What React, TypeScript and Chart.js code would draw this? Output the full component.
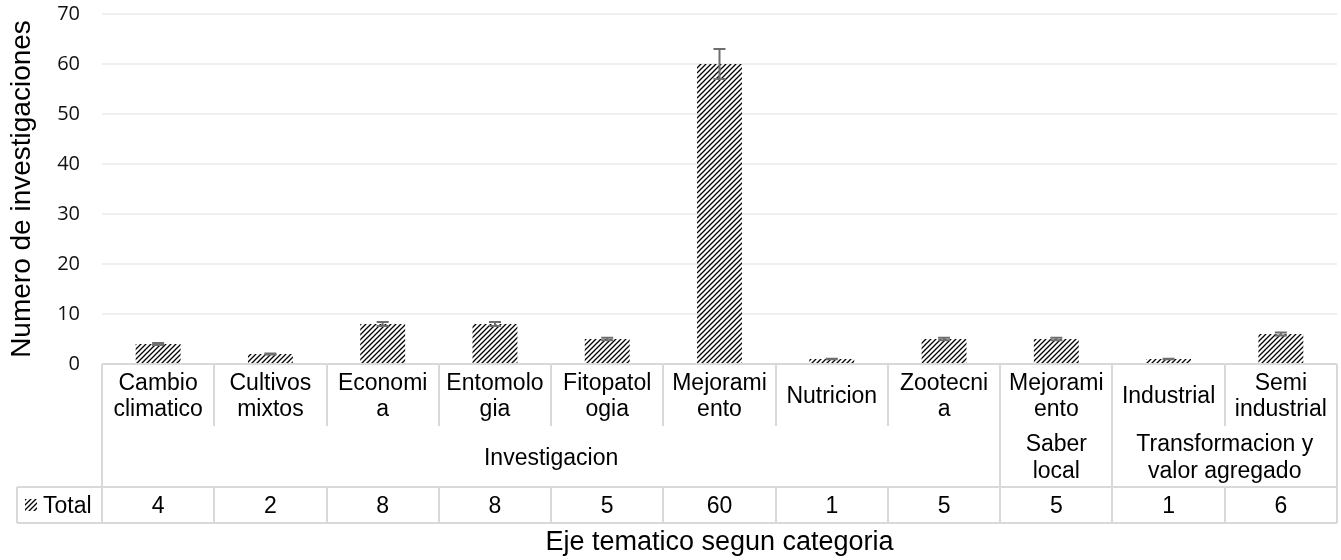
import React, { useEffect, useRef } from "react";
import { Chart, registerables } from "chart.js";

Chart.register(...registerables);

// ---------- data ----------
const categoryLabels: string[][] = [
  ["Cambio", "climatico"],
  ["Cultivos", "mixtos"],
  ["Economi", "a"],
  ["Entomolo", "gia"],
  ["Fitopatol", "ogia"],
  ["Mejorami", "ento"],
  ["Nutricion"],
  ["Zootecni", "a"],
  ["Mejorami", "ento"],
  ["Industrial"],
  ["Semi", "industrial"],
];
const groupLabels: string[][] = [
  ["Investigacion"],
  ["Saber", "local"],
  ["Transformacion y", "valor agregado"],
];
const groupSpans: number[] = [8, 1, 2];
const totals: number[] = [4, 2, 8, 8, 5, 60, 1, 5, 5, 1, 6];
const errorAmounts: number[] = [0.2, 0.1, 0.4, 0.4, 0.25, 3, 0.05, 0.25, 0.25, 0.05, 0.3];
const seriesName = "Total";
const yMin = 0;
const yMax = 70;
const yStep = 10;
const xTitle = "Eje tematico segun categoria";
const yTitle = "Numero de investigaciones";

// ---------- styling ----------
const TABLE_FONT = '23px "Liberation Sans", Arial, sans-serif';
const LINE_COLOR = "#d9d9d9";
const TEXT_COLOR = "#000000";
const ROW1_H = 62;
const ROW2_H = 61;
const ROW3_H = 36;
const LEGEND_LEFT = 17;
const LINE_SPACING = 26.6;
const BASELINE_SHIFT = 8;

function makePattern(): CanvasPattern | string {
  const c = document.createElement("canvas");
  c.width = 5;
  c.height = 5;
  const g = c.getContext("2d");
  if (!g) return "#444";
  g.strokeStyle = "#000";
  g.lineWidth = 1.3;
  g.beginPath();
  g.moveTo(0, 5);
  g.lineTo(5, 0);
  g.moveTo(-1, 1);
  g.lineTo(1, -1);
  g.moveTo(4, 6);
  g.lineTo(6, 4);
  g.stroke();
  const p = g.createPattern(c, "repeat");
  return p || "#444";
}

function drawLines(ctx: CanvasRenderingContext2D, lines: string[], cx: number, cy: number) {
  const n = lines.length;
  lines.forEach((t, k) => {
    const y = cy + BASELINE_SHIFT + (k - (n - 1) / 2) * LINE_SPACING;
    ctx.fillText(t, cx, y);
  });
}

export default function App() {
  const canvasRef = useRef<HTMLCanvasElement | null>(null);

  useEffect(() => {
    document.body.style.margin = "0";
    const canvas = canvasRef.current;
    if (!canvas) return;
    const pattern = makePattern();

    const errorBarPlugin = {
      id: "errorBars",
      afterDatasetsDraw(chart: any) {
        const ctx = chart.ctx as CanvasRenderingContext2D;
        const meta = chart.getDatasetMeta(0);
        const ys = chart.scales.y;
        ctx.save();
        ctx.strokeStyle = "#6e6e6e";
        ctx.lineWidth = 2;
        meta.data.forEach((bar: any, i: number) => {
          const v = totals[i];
          const e = errorAmounts[i];
          const x = bar.x;
          const yt = ys.getPixelForValue(v + e);
          const yb = ys.getPixelForValue(v - e);
          ctx.beginPath();
          ctx.moveTo(x, yt);
          ctx.lineTo(x, yb);
          ctx.moveTo(x - 6, yt);
          ctx.lineTo(x + 6, yt);
          ctx.moveTo(x - 6, yb);
          ctx.lineTo(x + 6, yb);
          ctx.stroke();
        });
        ctx.restore();
      },
    };

    const tablePlugin = {
      id: "dataTable",
      afterDraw(chart: any) {
        const ctx = chart.ctx as CanvasRenderingContext2D;
        const xs = chart.scales.x;
        const ys = chart.scales.y;
        const n = totals.length;
        const left = xs.left;
        const right = xs.right;
        const w = (right - left) / n;
        const r0 = Math.round(ys.getPixelForValue(0));
        const r1 = r0 + ROW1_H;
        const r2 = r1 + ROW2_H;
        const r3 = r2 + ROW3_H;
        const bx = (i: number) => Math.round(left + i * w);

        ctx.save();
        ctx.strokeStyle = LINE_COLOR;
        ctx.lineWidth = 2;
        ctx.beginPath();
        ctx.moveTo(left, r0);
        ctx.lineTo(right, r0);
        ctx.moveTo(LEGEND_LEFT, r2);
        ctx.lineTo(right, r2);
        ctx.moveTo(LEGEND_LEFT, r3);
        ctx.lineTo(right, r3);
        ctx.moveTo(LEGEND_LEFT, r2);
        ctx.lineTo(LEGEND_LEFT, r3);
        for (let i = 0; i <= n; i++) {
          ctx.moveTo(bx(i), r0);
          ctx.lineTo(bx(i), r1);
          ctx.moveTo(bx(i), r2);
          ctx.lineTo(bx(i), r3);
        }
        let acc = 0;
        ctx.moveTo(bx(0), r1);
        ctx.lineTo(bx(0), r2);
        groupSpans.forEach((s) => {
          acc += s;
          ctx.moveTo(bx(acc), r1);
          ctx.lineTo(bx(acc), r2);
        });
        ctx.stroke();

        ctx.fillStyle = TEXT_COLOR;
        ctx.font = TABLE_FONT;
        ctx.textAlign = "center";
        ctx.textBaseline = "alphabetic";
        const labels = chart.data.labels as string[][];
        labels.forEach((lab, i) => {
          drawLines(ctx, lab, left + (i + 0.5) * w, (r0 + r1) / 2);
        });
        acc = 0;
        groupLabels.forEach((g, k) => {
          const s = groupSpans[k];
          const cx = left + (acc + s / 2) * w;
          drawLines(ctx, g, cx, (r1 + r2) / 2);
          acc += s;
        });
        const vals = chart.data.datasets[0].data as number[];
        vals.forEach((v, i) => {
          drawLines(ctx, [String(v)], left + (i + 0.5) * w, (r2 + r3) / 2);
        });
        const cy = (r2 + r3) / 2;
        ctx.fillStyle = pattern as any;
        ctx.fillRect(25, Math.round(cy - 6), 12, 12);
        ctx.fillStyle = TEXT_COLOR;
        ctx.textAlign = "left";
        ctx.fillText(chart.data.datasets[0].label, 43, cy + BASELINE_SHIFT);
        ctx.restore();
      },
    };

    const chart = new Chart(canvas, {
      type: "bar",
      data: {
        labels: categoryLabels as any,
        datasets: [
          {
            label: seriesName,
            data: totals,
            backgroundColor: pattern as any,
            borderWidth: 0,
            categoryPercentage: 1,
            barPercentage: 0.4,
          },
        ],
      },
      options: {
        animation: false,
        responsive: true,
        maintainAspectRatio: false,
        layout: { padding: { top: 14, right: 4, bottom: 0, left: 0 } },
        plugins: {
          legend: { display: false },
          tooltip: { enabled: false },
        },
        scales: {
          x: {
            grid: { display: false },
            border: { display: false },
            ticks: { display: false },
            title: {
              display: true,
              text: xTitle,
              color: TEXT_COLOR,
              font: { family: '"Liberation Sans", Arial, sans-serif', size: 27, lineHeight: 1.2 },
              padding: { top: 0, bottom: 1 },
            },
            afterFit: (scale: any) => {
              scale.height = 196;
              scale.paddingLeft = 0;
              scale.paddingRight = 0;
            },
          },
          y: {
            min: yMin,
            max: yMax,
            ticks: {
              stepSize: yStep,
              color: "#111111",
              padding: 22,
              font: { family: '"Open Sans", sans-serif', size: 20 },
            },
            grid: {
              drawTicks: false,
              lineWidth: 2,
              color: (c: any) => (c.tick && c.tick.value === 0 ? "rgba(0,0,0,0)" : "#efefef"),
            },
            border: { display: false },
            title: {
              display: true,
              text: yTitle,
              color: TEXT_COLOR,
              font: { family: '"Liberation Sans", Arial, sans-serif', size: 28, lineHeight: 1.2 },
              padding: { top: 5, bottom: 0 },
            },
            afterFit: (scale: any) => {
              scale.width = 102;
              scale.paddingTop = 0;
              scale.paddingBottom = 0;
            },
          },
        },
      },
      plugins: [errorBarPlugin, tablePlugin],
    });

    return () => {
      chart.destroy();
    };
  }, []);

  return (
    <div style={{ position: "absolute", left: 0, top: 0, width: 1341, height: 560, background: "#fff" }}>
      <canvas ref={canvasRef} />
    </div>
  );
}
